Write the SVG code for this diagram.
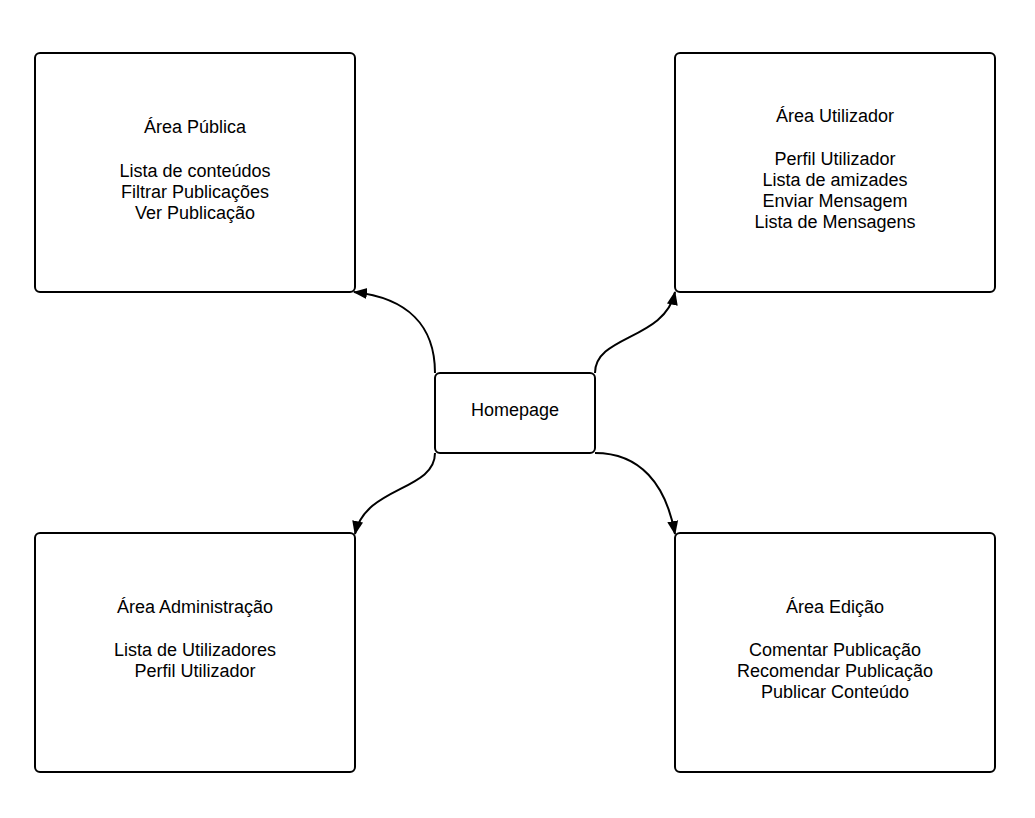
<svg xmlns="http://www.w3.org/2000/svg" width="1035" height="818" viewBox="0 0 1035 818">
<style>
.box{fill:#fff;stroke:#000;stroke-width:2}
.t{font-family:"Liberation Sans",Arial,sans-serif;font-size:18px;fill:#000;text-anchor:middle}
.c{fill:none;stroke:#000;stroke-width:2}
</style>
<defs>
<marker id="ah" markerUnits="userSpaceOnUse" markerWidth="14" markerHeight="12" refX="13" refY="5.5" orient="auto" viewBox="0 0 14 11">
<path d="M0,0 L14,5.5 L0,11 z" fill="#000"/>
</marker>
</defs>
<rect width="1035" height="818" fill="#fff"/>
<g id="connectors">
<path class="c" d="M435,373 C435,326 408,298 354,292" marker-end="url(#ah)"/>
<path class="c" d="M595,373 C595,335 665,340 675,292" marker-end="url(#ah)"/>
<path class="c" d="M435,453 C435,491 365,486 355,534" marker-end="url(#ah)"/>
<path class="c" d="M595,453 C640,453 666,484 675,534" marker-end="url(#ah)"/>
</g>
<g id="area-publica">
<rect class="box" x="35" y="53" width="320" height="239" rx="5"/>
<text class="t" x="195" y="133">Área Pública</text>
<text class="t" x="195" y="177">Lista de conteúdos</text>
<text class="t" x="195" y="198">Filtrar Publicações</text>
<text class="t" x="195" y="219">Ver Publicação</text>
</g>
<g id="area-utilizador">
<rect class="box" x="675" y="53" width="320" height="239" rx="5"/>
<text class="t" x="835" y="122">Área Utilizador</text>
<text class="t" x="835" y="165">Perfil Utilizador</text>
<text class="t" x="835" y="186">Lista de amizades</text>
<text class="t" x="835" y="207">Enviar Mensagem</text>
<text class="t" x="835" y="228">Lista de Mensagens</text>
</g>
<g id="homepage">
<rect class="box" x="435" y="373" width="160" height="80" rx="5"/>
<text class="t" x="515" y="416">Homepage</text>
</g>
<g id="area-administracao">
<rect class="box" x="35" y="533" width="320" height="239" rx="5"/>
<text class="t" x="195" y="613">Área Administração</text>
<text class="t" x="195" y="656">Lista de Utilizadores</text>
<text class="t" x="195" y="677">Perfil Utilizador</text>
</g>
<g id="area-edicao">
<rect class="box" x="675" y="533" width="320" height="239" rx="5"/>
<text class="t" x="835" y="613">Área Edição</text>
<text class="t" x="835" y="656">Comentar Publicação</text>
<text class="t" x="835" y="677">Recomendar Publicação</text>
<text class="t" x="835" y="698">Publicar Conteúdo</text>
</g>
</svg>
